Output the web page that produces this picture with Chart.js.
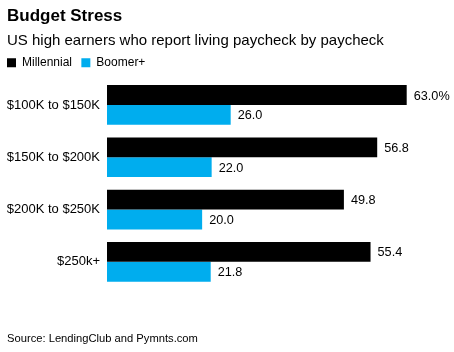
<!DOCTYPE html>
<html>
<head>
<meta charset="utf-8">
<script src="https://cdn.jsdelivr.net/npm/chart.js@4"></script>
<style>
  html, body { margin: 0; padding: 0; background: #fff; }
  #wrap { position: relative; width: 454px; height: 352px; }
  #source { position: absolute; left: 7px; top: 332px; font: 11.2px "Liberation Sans", Arial, sans-serif; color: #000; }
</style>
</head>
<body>
<div id="wrap">
  <canvas id="c" width="454" height="352"></canvas>
  <div id="source">Source: LendingClub and Pymnts.com</div>
</div>
<script>
const categories = ["$100K to $150K", "$150K to $200K", "$200K to $250K", "$250k+"];
const millennial = [63.0, 56.8, 49.8, 55.4];
const boomer = [26.0, 22.0, 20.0, 21.8];
const seriesNames = ["Millennial", "Boomer+"];

const FONT = '"Liberation Sans", Arial, sans-serif';

const valueLabels = {
  id: 'valueLabels',
  afterDatasetsDraw(chart) {
    const ctx = chart.ctx;
    ctx.save();
    ctx.font = '12.7px ' + FONT;
    ctx.fillStyle = '#000';
    ctx.textBaseline = 'middle';
    ctx.textAlign = 'left';
    chart.data.datasets.forEach((ds, di) => {
      const meta = chart.getDatasetMeta(di);
      meta.data.forEach((bar, i) => {
        let txt = ds.data[i].toFixed(1);
        if (di === 0 && i === 0) txt += '%';
        ctx.fillText(txt, bar.x + 7, bar.y + 1);
      });
    });
    ctx.restore();
  }
};

new Chart(document.getElementById('c'), {
  type: 'bar',
  data: {
    labels: categories,
    datasets: [
      { label: seriesNames[0], data: millennial, backgroundColor: '#000000', borderWidth: 0 },
      { label: seriesNames[1], data: boomer, backgroundColor: '#00adee', borderWidth: 0 }
    ]
  },
  options: {
    indexAxis: 'y',
    responsive: false,
    animation: false,
    devicePixelRatio: 1,
    layout: { padding: { left: 7, right: 14, top: 0, bottom: 64 } },
    datasets: { bar: { categoryPercentage: 0.76, barPercentage: 1.0 } },
    scales: {
      x: { display: false, min: 0, max: 70 },
      y: {
        grid: { display: false, drawTicks: false, tickLength: 0 },
        border: { display: false },
        ticks: { color: '#000', font: { family: FONT, size: 13 }, padding: 7 },
        afterFit(scale) { scale.width = 100; }
      }
    },
    plugins: {
      tooltip: { enabled: false },
      title: {
        display: true, text: 'Budget Stress', align: 'start', color: '#000',
        font: { family: FONT, size: 17, weight: 'bold' },
        padding: { top: 6, bottom: 5.6 }
      },
      subtitle: {
        display: true, text: 'US high earners who report living paycheck by paycheck', align: 'start', color: '#000',
        font: { family: FONT, size: 15 },
        padding: { top: 0, bottom: 6.8 }
      },
      legend: {
        display: true, position: 'top', align: 'start',
        labels: {
          boxWidth: 9, boxHeight: 9, color: '#000', padding: 0,
          font: { family: FONT, size: 12 },
          generateLabels(chart) {
            const items = Chart.defaults.plugins.legend.labels.generateLabels(chart);
            items.forEach((it, i) => { if (i < items.length - 1) it.text = it.text + ' \u2002'; it.lineWidth = 0; });
            return items;
          }
        }
      }
    }
  },
  plugins: [valueLabels]
});
</script>
</body>
</html>
